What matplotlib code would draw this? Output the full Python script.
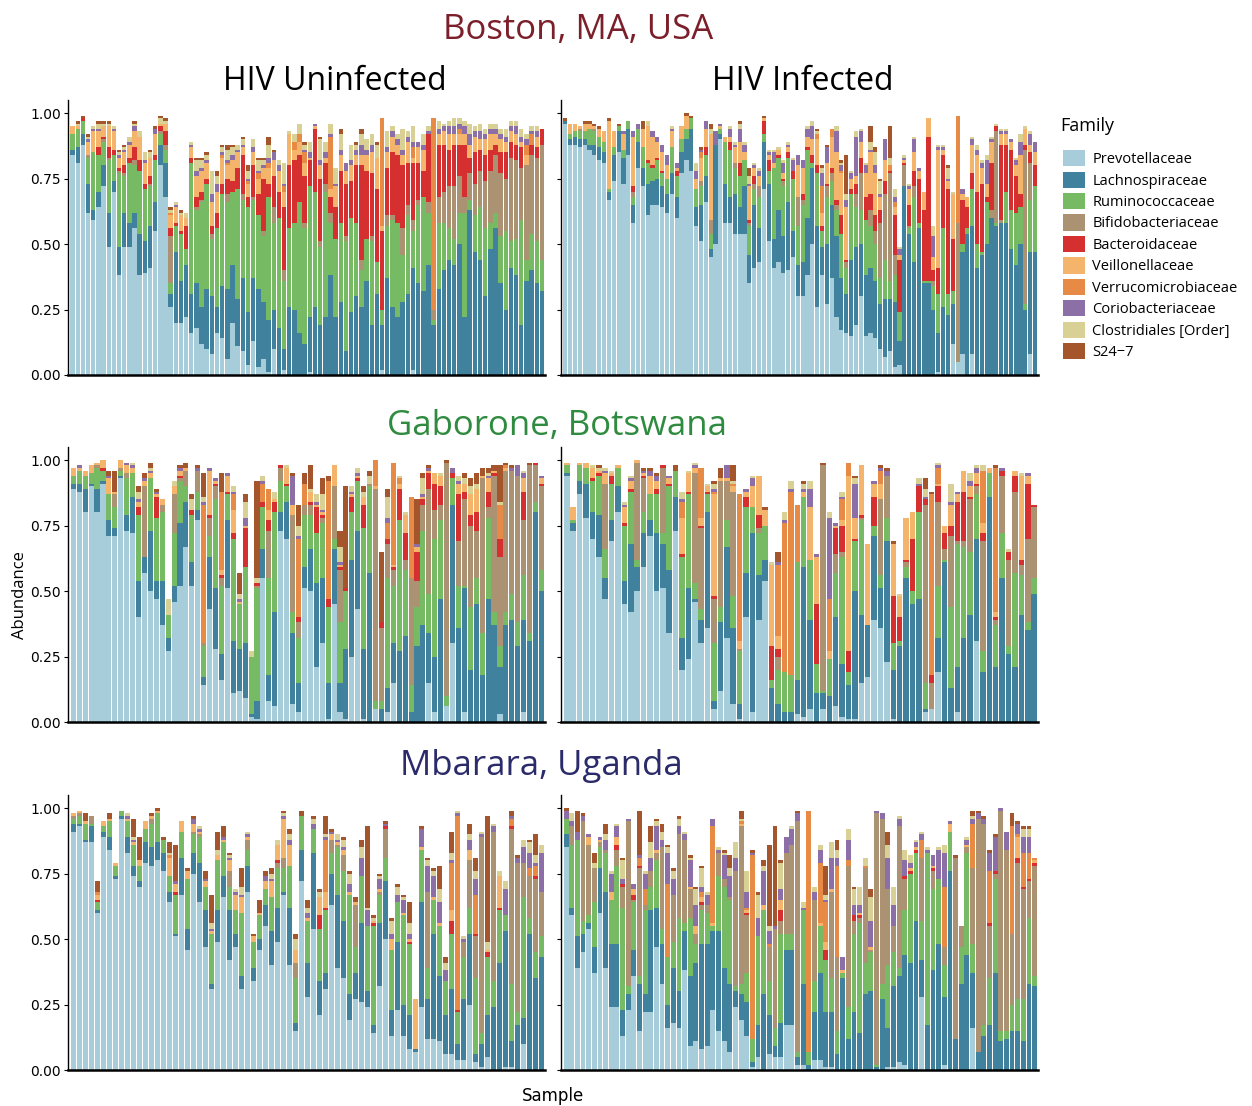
import numpy as np
import matplotlib
matplotlib.use("Agg")
import matplotlib.pyplot as plt
from matplotlib.patches import Patch

plt.rcParams['font.family'] = ['Open Sans', 'DejaVu Sans']

# ***************************** data *****************************
families = ["Prevotellaceae", "Lachnospiraceae", "Ruminococcaceae", "Bifidobacteriaceae",
            "Bacteroidaceae", "Veillonellaceae", "Verrucomicrobiaceae", "Coriobacteriaceae",
            "Clostridiales [Order]", "S24\u22127"]
colors = ["#a7cddb", "#40819e", "#76bb64", "#aa9272", "#d5302f",
          "#f4b46c", "#e68a45", "#8c6fa6", "#d9d096", "#a4552b"]

# one row per sample, columns follow `families`, values in percent
boston_neg = """
84 2 6 0 0 3 0 0 0 0
81 6 7 0 0 1 0 0 1 1
88 4 5 0 1 0 0 0 0 1
62 11 10 1 0 5 0 1 1 1
59 4 22 0 0 8 0 1 1 0
64 6 14 0 3 6 0 1 2 1
72 8 9 1 1 4 0 0 1 1
49 13 20 1 4 8 0 0 1 1
70 4 10 0 2 7 0 1 1 0
38 11 28 1 1 4 0 1 1 1
49 13 14 1 3 5 0 1 1 1
49 9 23 0 2 5 0 1 2 0
56 6 18 2 5 6 0 2 1 1
38 16 24 0 4 9 0 0 2 0
39 12 20 0 2 8 0 1 3 0
41 16 15 1 3 7 0 0 2 1
55 11 16 0 2 8 0 2 0 1
80 8 4 1 2 1 0 0 2 1
68 13 5 2 5 3 0 0 1 1
26 5 4 18 3 5 1 0 1 1
20 27 10 0 1 6 0 1 1 0
20 16 18 0 1 6 0 0 1 1
22 20 6 0 9 3 0 0 2 0
16 15 50 0 2 4 0 1 1 0
18 17 28 1 4 8 0 2 4 1
12 14 40 1 3 8 0 1 3 1
10 23 40 0 2 6 0 1 2 1
8 22 22 2 3 9 0 3 9 0
16 10 30 0 6 8 0 3 3 2
14 20 35 0 4 10 1 1 2 1
6 27 33 3 6 5 1 1 4 2
20 22 28 0 4 8 0 2 3 1
11 18 42 0 8 6 0 1 2 0
9 28 30 2 15 3 0 1 2 1
4 20 40 0 4 5 1 1 3 2
13 24 30 1 12 5 0 2 3 0
3 30 28 0 8 6 2 1 4 1
6 22 25 2 20 4 0 1 2 1
1 20 47 0 5 6 2 2 5 3
10 15 33 6 12 6 0 3 0 1
0 18 42 0 10 8 0 2 2 0
2 8 26 4 24 6 2 1 8 0
0 26 30 0 24 12 0 0 1 0
0 25 33 0 24 4 3 0 3 0
0 16 50 0 18 5 3 0 4 0
0 12 44 2 18 5 4 1 2 1
1 21 50 0 10 1 0 2 4 0
0 26 44 0 24 1 0 1 0 0
0 19 30 2 24 5 0 2 8 1
0 22 48 3 8 2 0 2 4 0
0 38 20 4 6 3 20 1 4 0
0 22 30 0 12 8 0 1 6 0
0 28 30 0 20 6 0 2 6 2
0 9 42 2 20 5 0 3 0 0
0 24 36 0 14 6 0 2 6 0
0 30 28 0 22 4 0 2 2 1
0 26 14 4 36 4 0 4 4 2
0 36 16 0 26 6 0 2 4 0
0 19 32 2 24 8 0 3 4 0
0 31 12 0 28 12 0 0 5 1
2 17 6 0 30 2 41 0 0 0
0 37 20 4 18 6 0 2 6 0
0 26 33 2 24 6 0 2 2 0
0 22 36 0 26 4 0 2 2 0
0 28 18 10 24 4 0 2 8 0
0 31 30 4 16 8 0 2 2 0
2 39 14 4 22 2 4 2 6 0
0 35 30 2 14 6 0 2 0 0
0 32 36 0 10 8 0 2 4 0
0 42 20 4 26 0 0 1 2 0
0 19 2 4 0 0 73 0 0 0
0 33 25 10 20 4 0 2 3 0
0 40 18 12 18 5 0 2 1 0
0 44 12 16 14 6 0 3 2 0
0 42 10 20 16 4 0 3 3 0
0 50 12 14 12 4 2 2 2 0
0 22 40 6 20 4 0 3 2 0
0 63 4 10 6 5 0 4 4 0
0 47 14 12 12 6 0 2 2 0
0 44 20 14 8 4 0 3 3 0
0 30 26 18 10 6 0 2 2 0
0 48 10 20 8 6 0 2 2 0
0 56 6 22 4 4 0 2 2 0
0 35 18 24 8 5 0 2 2 0
0 25 30 20 10 4 0 2 3 0
0 41 10 32 6 4 0 2 2 0
0 38 14 30 6 4 0 3 2 0
0 19 40 20 8 2 0 2 3 0
0 36 8 36 0 4 4 2 2 0
0 40 14 30 4 0 4 1 2 0
0 35 16 32 4 4 0 2 2 0
0 32 12 44 6 0 0 0 0 0
"""

boston_pos = """
96 1 0 0 0 0 0 0 0 1
88 2 2 0 0 4 0 0 0 0
88 3 2 0 0 3 0 0 0 0
87 3 3 1 0 1 0 0 0 0
88 2 3 0 0 3 0 0 0 1
86 2 6 0 0 2 0 0 0 1
84 4 5 1 0 1 0 0 0 1
82 5 4 0 0 3 0 0 0 1
81 4 4 0 0 4 0 0 0 0
67 3 1 0 0 26 0 0 0 1
74 10 3 0 0 6 0 0 0 0
85 8 2 0 0 0 0 0 0 1
73 10 3 0 0 6 0 1 0 0
84 10 3 0 0 0 0 0 0 0
58 7 3 2 2 19 0 2 0 0
79 10 5 0 0 0 0 2 0 0
72 7 8 0 0 7 0 0 0 3
61 12 8 0 1 13 0 0 2 0
65 9 5 0 1 11 0 2 0 0
65 10 7 0 1 6 0 2 0 0
64 8 5 0 1 7 0 3 0 0
62 7 6 0 0 5 0 4 0 0
69 8 10 0 0 6 0 1 1 0
60 8 8 0 2 1 0 2 0 0
77 8 5 0 0 5 0 0 0 0
82 8 4 0 0 5 0 0 0 1
78 16 4 0 0 0 0 0 0 1
57 7 7 0 0 4 0 3 3 0
51 14 7 2 0 9 2 1 0 1
66 10 8 0 3 7 0 3 0 0
45 3 6 5 0 33 0 0 2 2
50 38 0 0 0 0 0 5 0 0
90 2 2 0 0 1 0 1 0 0
58 15 16 0 0 2 0 0 0 0
58 10 18 0 3 2 0 3 1 0
54 15 10 2 0 6 0 1 1 0
54 10 12 0 5 8 0 5 2 1
54 18 10 0 0 3 0 3 1 0
35 11 11 1 1 13 0 1 3 3
41 24 6 2 3 3 0 1 1 0
43 13 12 4 0 4 0 2 1 0
71 18 3 0 5 1 0 0 0 1
51 22 5 0 4 2 0 1 1 0
41 11 27 0 0 2 0 4 1 0
43 20 20 0 1 2 0 0 1 0
39 14 19 2 1 2 0 4 1 0
40 26 17 0 2 2 0 1 1 0
45 10 20 0 3 0 0 4 1 0
30 12 15 11 0 12 0 4 0 0
30 13 22 2 2 10 0 3 0 0
38 22 26 0 1 4 0 3 1 0
50 29 2 0 3 6 0 5 2 0
26 31 20 0 3 10 2 0 1 1
38 11 6 0 2 5 10 5 2 1
27 23 18 4 1 8 0 6 0 1
37 28 9 3 2 12 3 0 0 0
22 31 10 2 2 18 0 8 2 0
17 20 17 0 7 16 1 2 1 1
16 15 10 2 1 20 0 3 2 15
15 29 25 0 2 4 0 2 1 0
19 30 15 5 4 3 0 15 2 0
30 20 13 14 6 6 0 4 1 0
15 23 21 0 9 9 0 3 1 0
16 25 16 6 6 16 0 1 3 6
14 22 14 5 6 16 0 3 5 2
10 17 10 21 5 5 0 1 5 1
7 22 15 25 5 8 0 8 0 0
9 20 7 41 1 0 2 0 3 12
3 25 10 8 15 3 2 2 3 0
4 9 11 0 20 2 0 2 1 0
0 72 0 8 1 1 0 1 1 0
0 54 2 1 8 6 0 1 1 0
0 43 25 4 6 7 0 5 1 0
0 56 2 0 17 3 0 1 0 0
0 35 1 0 27 7 0 0 0 0
0 35 1 0 55 7 0 0 0 0
0 25 9 2 4 5 0 8 4 0
1 15 15 0 10 45 0 1 1 0
0 26 30 0 28 2 0 1 1 0
0 23 8 0 40 3 0 1 4 1
12 15 5 0 20 17 0 0 1 0
5 0 0 53 0 0 41 0 0 0
8 39 3 0 17 2 0 2 0 0
0 54 2 0 8 4 0 0 0 0
8 49 14 0 6 11 0 2 1 0
0 41 9 0 20 14 0 2 2 0
0 46 1 0 26 6 0 2 1 0
0 50 16 0 2 5 0 9 2 0
0 60 0 3 18 8 0 1 1 0
0 57 1 35 2 0 0 0 1 0
0 58 0 1 29 4 0 1 1 0
0 58 12 0 18 4 0 1 1 0
0 48 15 0 23 3 0 1 0 0
0 42 20 0 14 4 0 2 1 0
0 50 14 0 5 15 0 5 3 0
0 25 2 59 2 6 0 0 1 0
8 39 20 14 4 3 0 4 1 0
0 47 25 0 8 5 0 4 0 0
"""

gaborone_neg = """
89 2 3 0 0 3 0 0 0 0
88 3 5 0 0 1 0 1 0 0
80 9 5 0 0 2 0 0 0 0
90 1 4 0 0 3 0 0 0 0
80 9 8 1 0 1 0 0 0 0
91 1 4 0 1 3 0 0 0 0
71 6 10 0 0 6 0 1 0 2
71 3 8 5 0 1 0 0 0 8
93 1 2 1 0 3 0 0 0 0
73 6 14 2 0 3 0 1 0 0
72 14 9 0 0 2 0 1 1 0
40 14 25 0 3 2 0 1 3 2
57 6 0 27 0 2 0 1 0 2
50 23 20 0 0 2 0 1 1 2
47 7 24 0 8 1 0 1 0 1
37 17 26 3 0 2 0 0 0 0
27 5 9 0 0 0 0 0 6 0
46 6 20 15 0 3 0 0 2 0
52 24 16 1 1 2 0 1 0 1
67 17 6 6 0 1 0 0 0 2
52 9 18 0 2 0 0 0 4 2
77 4 7 8 0 0 0 1 0 1
14 3 12 1 0 0 53 1 2 9
43 20 8 7 1 17 0 1 0 0
28 23 34 5 1 1 0 1 0 0
16 10 26 3 1 2 30 0 0 7
51 26 10 0 1 6 0 1 0 0
11 20 39 0 2 9 6 1 2 0
12 16 17 0 0 1 0 1 2 8
9 21 29 0 15 1 0 3 6 3
2 1 22 0 0 0 0 0 2 0
1 7 43 1 1 0 0 0 2 37
55 11 16 0 2 0 7 1 2 0
8 10 37 18 4 4 8 0 0 0
6 36 38 0 4 1 0 0 3 0
73 7 12 5 1 0 0 0 0 0
70 14 6 0 1 6 0 0 1 0
7 27 8 37 0 4 0 11 0 1
4 11 17 6 2 0 30 1 4 8
51 8 20 4 0 0 8 0 0 4
50 16 13 4 1 4 0 0 1 9
21 32 19 0 10 1 0 1 3 0
30 25 21 2 1 1 0 1 6 6
1 14 29 0 3 0 45 0 0 2
45 21 4 20 0 8 0 0 0 0
4 11 23 20 1 1 0 1 6 6
1 27 22 0 1 0 0 0 0 39
25 37 18 0 6 1 0 1 2 0
43 30 19 0 1 1 0 1 2 0
1 27 46 0 9 3 0 0 2 2
0 57 33 1 0 0 0 0 3 2
5 0 3 81 0 1 10 0 0 0
0 5 3 28 2 0 0 0 0 27
4 9 42 13 2 0 6 2 8 3
15 15 22 6 1 1 39 0 0 0
0 27 50 0 12 2 2 0 1 0
0 33 25 4 10 7 0 0 1 0
0 4 10 41 0 0 31 0 0 0
0 29 15 10 11 2 0 1 0 17
0 37 36 10 2 1 0 1 6 2
15 19 15 40 6 1 0 1 0 1
4 21 45 11 10 4 0 0 0 0
0 47 30 6 7 4 0 0 1 0
6 0 4 89 0 0 0 0 0 1
30 53 10 0 2 0 0 2 0 0
0 36 16 17 18 4 0 1 2 0
4 47 1 33 3 3 0 0 2 2
0 20 24 31 4 8 0 0 3 3
0 45 10 18 7 9 0 0 2 4
0 18 16 59 0 1 0 0 0 3
0 47 31 4 6 5 0 1 1 2
0 37 5 52 1 1 0 0 0 2
3 18 8 34 7 0 13 0 1 14
0 37 5 54 0 1 1 0 0 1
0 39 10 47 0 0 0 1 0 1
0 29 9 56 0 0 0 4 0 0
4 35 17 21 11 5 0 2 1 0
0 31 3 64 0 0 0 0 0 1
0 80 4 14 1 0 0 0 0 0
0 50 8 32 1 2 0 1 0 0
"""

gaborone_pos = """
94 1 3 0 0 1 0 0 0 0
73 3 1 0 0 5 0 0 0 0
87 5 6 0 0 1 0 0 0 0
78 13 6 0 0 2 0 0 0 0
70 10 12 0 1 4 0 0 1 0
63 16 15 0 1 1 0 0 1 1
47 8 11 25 0 4 0 1 1 0
69 8 14 0 3 1 0 0 1 0
80 10 7 0 0 1 0 0 0 0
45 9 21 0 1 6 0 1 1 0
42 26 20 0 1 3 0 1 1 0
50 9 3 37 0 1 0 0 0 0
59 13 8 13 1 1 0 1 0 1
71 6 10 0 0 7 0 2 0 1
50 22 15 0 2 3 0 2 0 1
51 17 4 25 1 0 0 0 0 0
34 24 32 0 1 2 0 1 0 0
73 13 10 0 0 0 0 0 0 2
20 12 31 0 1 14 6 1 3 0
24 27 36 0 1 7 0 0 1 0
46 1 6 42 0 2 0 1 1 0
30 9 4 31 1 3 19 0 0 0
36 44 7 0 1 2 0 0 1 0
5 3 22 17 1 39 1 1 2 1
12 26 6 48 0 1 0 0 0 4
32 35 10 15 0 1 0 5 0 0
7 29 12 40 0 2 1 0 1 6
1 6 20 1 0 3 56 0 0 0
40 17 25 0 4 2 0 1 0 0
4 68 10 0 0 8 0 3 1 0
39 17 16 2 5 15 0 0 0 0
54 8 13 0 0 6 0 0 0 1
0 13 3 0 13 31 0 0 1 0
0 7 13 5 3 5 27 1 0 4
0 4 15 0 0 0 57 1 3 0
0 4 14 0 0 0 70 1 3 0
3 13 45 0 0 0 22 0 0 0
2 57 27 0 0 2 0 1 2 1
5 34 23 0 0 20 0 7 3 0
0 11 11 0 23 18 0 1 0 0
5 6 1 86 0 0 0 0 0 1
0 10 14 0 0 3 20 31 2 0
6 34 17 7 10 1 0 1 0 0
2 20 41 2 10 2 8 1 2 0
1 13 5 0 8 67 5 0 0 0
1 49 19 0 1 8 0 13 2 1
15 26 36 1 1 19 0 0 0 0
17 20 0 0 0 31 0 0 0 0
39 32 4 0 11 5 0 1 0 0
36 15 5 29 0 6 5 1 0 1
23 46 9 16 0 0 0 2 0 1
1 19 10 0 18 20 0 0 0 1
0 29 2 0 9 8 0 0 1 0
0 55 4 2 1 16 0 0 0 0
0 45 5 0 20 10 0 0 0 0
0 47 33 0 10 0 0 1 2 0
4 1 10 68 2 0 0 1 3 4
5 0 0 10 3 0 69 0 0 1
19 13 20 32 6 1 6 1 1 0
0 61 1 4 6 3 0 0 0 0
0 13 31 27 4 8 0 1 7 0
4 17 47 1 15 3 0 1 0 0
0 32 35 2 19 8 0 0 0 0
0 41 24 20 1 4 0 2 3 0
31 39 17 3 1 4 0 2 1 0
0 19 8 42 3 4 20 0 2 0
0 86 9 0 0 2 0 0 0 0
0 21 16 2 1 2 55 0 0 1
0 55 17 22 2 0 0 1 0 0
0 26 3 33 3 0 0 0 1 0
0 21 36 31 6 2 0 0 0 0
0 41 15 4 2 32 0 0 1 0
0 35 3 32 21 3 0 1 0 0
0 49 6 27 1 0 0 0 0 0
"""

mbarara_neg = """
91 3 2 1 0 1 0 0 0 0
93 1 3 1 0 1 0 0 0 0
87 1 6 0 0 1 0 0 0 3
87 6 1 3 0 0 0 0 0 0
60 1 3 0 1 2 1 0 0 4
89 2 2 0 0 2 0 0 0 0
84 5 6 0 0 1 0 0 0 2
73 1 4 0 0 1 0 0 0 0
96 1 2 0 0 0 0 0 0 0
83 6 6 0 0 1 0 1 1 0
74 4 8 0 0 1 0 1 1 7
70 2 6 0 0 2 0 0 0 9
79 8 5 0 0 3 0 0 0 0
78 7 9 2 0 1 0 0 0 1
80 7 11 0 0 1 0 0 0 1
76 7 5 0 0 0 0 0 0 1
64 4 6 0 0 7 1 0 1 4
51 1 15 0 1 3 0 1 0 14
67 14 10 0 0 4 0 0 0 0
46 8 19 0 0 3 0 0 0 1
75 8 7 1 0 3 0 2 0 1
64 15 10 1 0 1 0 1 1 0
47 14 9 0 0 2 0 1 0 3
31 2 19 0 0 1 0 1 2 11
49 12 19 0 0 2 0 0 2 7
66 8 13 0 0 1 0 1 0 4
42 19 9 6 0 4 0 1 1 1
47 5 9 0 0 6 0 1 1 0
31 5 24 0 0 6 0 1 3 7
68 10 6 4 0 1 0 1 1 0
34 5 10 0 0 2 0 0 0 1
46 4 9 0 0 1 0 0 0 5
55 8 6 0 0 3 0 2 0 2
40 13 13 0 0 6 0 1 2 2
49 13 15 2 1 6 0 0 2 0
67 1 9 4 0 15 0 1 1 1
40 22 16 0 0 8 0 2 2 2
15 3 17 6 0 5 0 0 4 2
72 12 13 0 0 0 0 0 0 2
28 13 16 0 0 1 0 2 2 3
54 29 9 0 0 0 0 2 2 1
21 13 20 0 5 7 0 0 2 1
31 6 24 0 1 6 20 1 1 7
63 12 8 5 0 2 0 1 0 1
39 28 18 1 0 1 0 1 2 0
35 22 19 6 0 2 0 1 3 1
19 10 38 0 0 1 0 3 4 1
27 10 10 16 0 1 0 0 0 2
26 30 18 0 0 0 0 7 4 3
24 6 25 0 0 0 0 6 1 31
14 3 38 0 1 1 0 0 1 1
32 24 11 1 0 1 0 4 1 1
50 22 9 11 1 0 0 1 0 1
13 10 23 0 0 4 0 2 5 1
23 26 15 0 0 0 0 3 3 1
13 12 34 0 0 1 0 5 1 1
8 13 27 0 1 1 0 2 4 8
7 1 0 0 0 19 0 0 0 0
24 40 20 0 0 1 0 7 0 1
12 15 12 29 0 0 0 10 2 1
12 40 13 0 0 1 0 8 2 1
11 25 19 0 0 1 0 8 5 9
6 15 13 0 0 0 0 4 3 2
6 25 21 0 5 4 18 1 3 8
4 6 12 0 1 0 74 1 1 0
4 23 16 6 0 0 0 1 1 0
25 27 10 18 0 4 0 4 2 4
3 3 29 16 1 0 15 6 3 5
1 9 4 75 0 0 0 1 1 0
5 16 22 0 2 1 0 0 3 48
0 24 10 57 0 0 0 2 1 0
0 41 20 0 1 12 0 0 2 0
1 52 6 0 0 0 0 10 3 0
1 10 22 59 1 0 3 1 0 2
0 17 5 57 0 0 0 2 0 1
10 10 46 13 0 0 0 6 3 0
0 52 6 16 0 0 3 6 4 1
0 35 10 28 1 0 4 1 3 8
0 43 8 17 0 0 0 15 3 0
"""

mbarara_pos = """
85 5 6 0 0 0 0 3 0 1
59 3 24 7 0 0 0 2 3 0
39 12 37 0 0 0 0 3 0 8
45 7 5 38 0 0 0 2 0 1
54 2 3 27 0 3 0 1 0 0
37 10 17 13 0 0 0 0 2 4
60 17 8 2 0 1 0 1 0 0
39 29 15 1 0 0 0 4 2 4
24 24 17 0 0 3 0 7 1 0
24 24 30 6 2 3 0 4 1 0
13 10 39 8 1 0 0 2 7 1
23 6 3 63 0 0 0 1 0 0
36 10 18 1 2 2 0 2 0 0
15 18 3 41 1 0 3 1 0 17
22 7 32 2 0 0 6 6 1 0
22 39 9 6 0 0 0 5 6 6
47 15 18 3 0 1 0 9 2 1
33 15 6 31 0 0 0 3 3 3
16 9 18 0 0 0 28 12 2 1
18 21 10 18 0 0 0 6 3 1
16 14 28 32 0 0 0 3 3 1
38 15 3 32 0 0 0 2 1 0
9 27 22 11 0 1 0 10 1 1
11 30 7 4 0 3 0 8 6 1
8 40 13 2 1 2 2 2 7 1
9 39 12 3 0 0 0 4 1 0
23 30 2 0 0 1 37 3 0 0
15 38 21 9 0 0 0 1 1 0
11 28 31 3 0 0 0 9 1 1
7 26 32 1 0 0 0 8 3 5
24 6 2 44 0 0 0 5 6 0
19 10 4 60 0 1 1 0 1 3
13 13 11 22 1 1 1 6 8 0
1 2 9 0 0 0 70 1 0 1
5 12 34 0 0 0 0 7 9 1
0 29 32 0 0 2 0 13 2 2
6 15 13 13 0 0 1 5 2 31
5 4 7 38 0 0 0 1 0 38
5 13 34 5 4 4 0 4 10 1
17 29 6 31 0 0 0 6 0 0
17 29 6 34 0 0 0 6 1 0
2 3 2 88 0 0 0 3 0 1
2 31 28 0 0 0 0 1 2 0
0 2 5 0 0 0 92 0 0 0
4 18 12 31 0 0 0 3 2 0
4 33 18 0 0 1 23 5 2 0
1 21 20 0 4 3 15 1 2 11
1 21 13 33 0 1 0 12 6 0
0 6 9 28 0 0 35 3 3 4
0 35 2 0 0 1 0 5 0 0
0 12 12 54 0 0 2 8 4 0
0 22 30 5 2 0 0 4 6 1
0 14 42 2 1 1 0 3 7 0
0 29 12 36 0 0 1 0 3 0
0 30 15 1 0 1 0 10 9 3
0 1 1 96 0 0 0 1 0 0
0 27 6 63 0 0 0 2 0 0
1 15 24 29 0 0 0 12 5 5
1 31 13 10 0 0 0 8 7 0
3 33 3 54 0 0 0 3 1 0
2 42 17 12 1 0 0 6 4 0
0 41 34 0 1 1 0 2 3 0
0 57 26 0 1 1 0 2 1 0
28 14 15 24 0 0 7 2 1 0
0 17 66 0 0 0 0 1 1 0
0 38 31 7 1 1 0 4 0 0
0 48 25 0 0 0 0 11 1 0
2 26 12 7 0 0 23 13 3 0
0 76 15 0 0 3 0 1 0 0
0 12 0 69 0 0 0 0 0 1
0 33 14 8 0 0 0 0 0 0
0 44 39 2 0 1 0 2 1 0
16 21 11 29 0 0 17 2 1 2
0 7 0 89 0 0 0 2 0 1
0 13 4 77 0 0 0 2 0 1
0 17 18 20 1 0 20 7 0 1
0 37 36 2 1 0 0 13 0 1
0 11 4 84 0 0 0 1 0 0
0 12 3 69 0 0 0 7 0 0
0 15 10 27 0 0 41 0 0 5
0 15 12 52 2 8 1 4 0 1
0 11 16 42 1 0 13 6 3 1
0 33 25 14 1 0 10 6 3 1
0 32 4 42 1 1 1 0 0 0
"""

sites = ["Boston, MA, USA", "Gaborone, Botswana", "Mbarara, Uganda"]
site_colors = ["#7b1f2a", "#2f8b3f", "#2b2b6b"]
status = ["HIV Uninfected", "HIV Infected"]
yticks = [0.0, 0.25, 0.5, 0.75, 1.0]


def table(text):
    rows = [[int(v) for v in line.split()] for line in text.strip().splitlines()]
    return np.array(rows, dtype=float) / 100.0


panels = [[table(boston_neg), table(boston_pos)],
          [table(gaborone_neg), table(gaborone_pos)],
          [table(mbarara_neg), table(mbarara_pos)]]

# ***************************** figure *****************************
W, H = 1252, 1106
fig = plt.figure(figsize=(W / 100, H / 100), dpi=100)

col_left = [68, 561]
col_w = 477
row_top = [100, 447, 795]
row_h = 275

for r in range(3):
    for c in range(2):
        data = panels[r][c]
        n = data.shape[0]
        ax = fig.add_axes([col_left[c] / W, 1 - (row_top[r] + row_h) / H,
                           col_w / W, row_h / H])
        x = np.arange(n)
        bottom = np.zeros(n)
        for k in range(len(families)):
            ax.bar(x, data[:, k], bottom=bottom, width=0.86,
                   color=colors[k], linewidth=0)
            bottom += data[:, k]
        ax.set_xlim(-0.9, n - 0.4)
        ax.set_ylim(0, 1.05)
        ax.set_xticks([])
        ax.set_yticks(yticks)
        for s in ["top", "right"]:
            ax.spines[s].set_visible(False)
        ax.spines["left"].set_linewidth(1.0)
        ax.spines["bottom"].set_linewidth(1.8)
        ax.tick_params(axis="y", length=3, width=0.8, pad=2)
        if c == 0:
            ax.set_yticklabels(["%.2f" % t for t in yticks], fontsize=10,
                               family=["Liberation Sans Narrow", "DejaVu Sans"])
        else:
            ax.set_yticklabels([])

# titles
fig.text(578 / W, 1 - 30 / H, sites[0], color=site_colors[0], fontsize=25,
         ha="center", va="center")
fig.text(557 / W, 1 - 426 / H, sites[1], color=site_colors[1], fontsize=25,
         ha="center", va="center")
fig.text(541 / W, 1 - 766 / H, sites[2], color=site_colors[2], fontsize=25,
         ha="center", va="center")
fig.text(335 / W, 1 - 82 / H, status[0], fontsize=23, ha="center", va="center")
fig.text(803 / W, 1 - 82 / H, status[1], fontsize=23, ha="center", va="center")

fig.text(20 / W, 1 - 595 / H, "Abundance", rotation=90, fontsize=12,
         ha="center", va="center")
fig.text(553 / W, 1 - 1096 / H, "Sample", fontsize=12, ha="center", va="center",
         family=["Liberation Sans Narrow", "DejaVu Sans"])

# legend: title drawn separately so the key rows sit lower
fig.text(1060 / W, 1 - 126 / H, "Family", fontsize=13, ha="left", va="center")
handles = [Patch(facecolor=col, edgecolor="none", label=f)
           for f, col in zip(families, colors)]
fig.legend(handles=handles, loc="upper left",
           bbox_to_anchor=(1050 / W, 1 - 137 / H), frameon=False,
           fontsize=10.5, handlelength=1.5, handleheight=1.35,
           labelspacing=0.3, handletextpad=0.5)

fig.savefig("out.png", dpi=100)
